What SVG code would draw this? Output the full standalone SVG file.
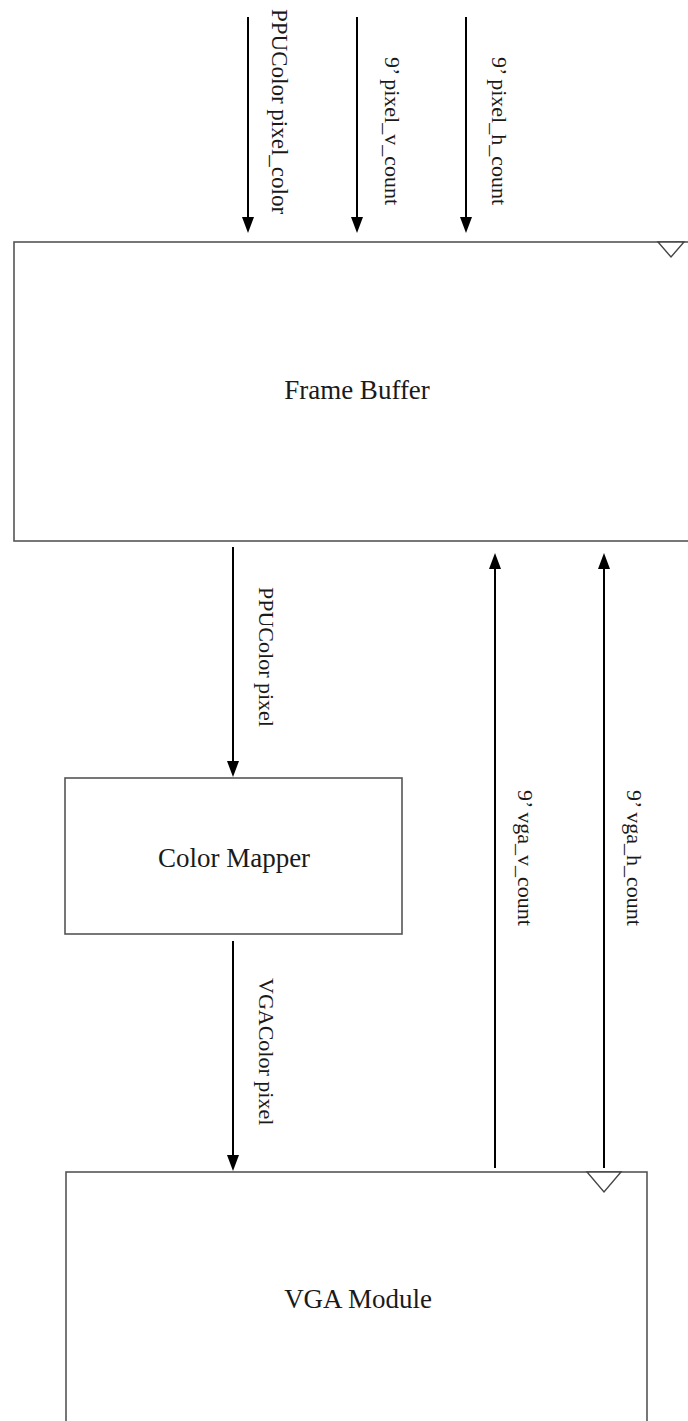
<svg xmlns="http://www.w3.org/2000/svg" width="688" height="1421" viewBox="0 0 688 1421">
<style>
.box{fill:#fff;stroke:#555;stroke-width:1.6}
.clk{fill:#fff;stroke:#444;stroke-width:1.4}
.title{font-family:"Liberation Serif","Times New Roman",serif;font-size:27px;fill:#1a1a1a;text-anchor:middle}
.lbl{font-family:"Liberation Serif","Times New Roman",serif;font-size:22px;fill:#1a1a1a}
.wire{stroke:#000;stroke-width:2;fill:none}
</style>
<defs>
<marker id="ah" viewBox="0 0 16 12" markerWidth="16" markerHeight="12" markerUnits="userSpaceOnUse" refX="10" refY="6" orient="auto">
<path d="M0,0 L16,6 L0,12 z" fill="#000"/>
</marker>
</defs>
<rect width="688" height="1421" fill="#fff"/>
<g id="frame-buffer">
<rect class="box" x="14" y="242" width="680" height="299"/>
<polygon class="clk" points="658,242 684,242 671,257"/>
<text class="title" x="357" y="399">Frame Buffer</text>
</g>
<g id="color-mapper">
<rect class="box" x="65" y="778" width="337" height="156"/>
<text class="title" x="234" y="867">Color Mapper</text>
</g>
<g id="vga-module">
<rect class="box" x="66" y="1172" width="581" height="260"/>
<polygon class="clk" points="587,1172 621,1172 604,1192"/>
<text class="title" x="358" y="1308">VGA Module</text>
</g>
<g id="connectors">
<line class="wire" x1="248" y1="17" x2="248" y2="227" marker-end="url(#ah)"/>
<line class="wire" x1="357" y1="17" x2="357" y2="227" marker-end="url(#ah)"/>
<line class="wire" x1="466" y1="17" x2="466" y2="227" marker-end="url(#ah)"/>
<line class="wire" x1="233" y1="547" x2="233" y2="771" marker-end="url(#ah)"/>
<line class="wire" x1="233" y1="941" x2="233" y2="1165" marker-end="url(#ah)"/>
<line class="wire" x1="495" y1="1168" x2="495" y2="559" marker-end="url(#ah)"/>
<line class="wire" x1="604" y1="1168" x2="604" y2="559" marker-end="url(#ah)"/>
<text class="lbl" style="font-size:23px" transform="translate(272,9) rotate(90)">PPUColor pixel_color</text>
<text class="lbl" transform="translate(385,57) rotate(90)">9’ pixel_v_count</text>
<text class="lbl" transform="translate(492,57) rotate(90)">9’ pixel_h_count</text>
<text class="lbl" transform="translate(259,587) rotate(90)">PPUColor pixel</text>
<text class="lbl" transform="translate(259,978) rotate(90)">VGAColor pixel</text>
<text class="lbl" transform="translate(518,790) rotate(90)">9’ vga_v_count</text>
<text class="lbl" transform="translate(627,790) rotate(90)">9’ vga_h_count</text>
</g>
</svg>
